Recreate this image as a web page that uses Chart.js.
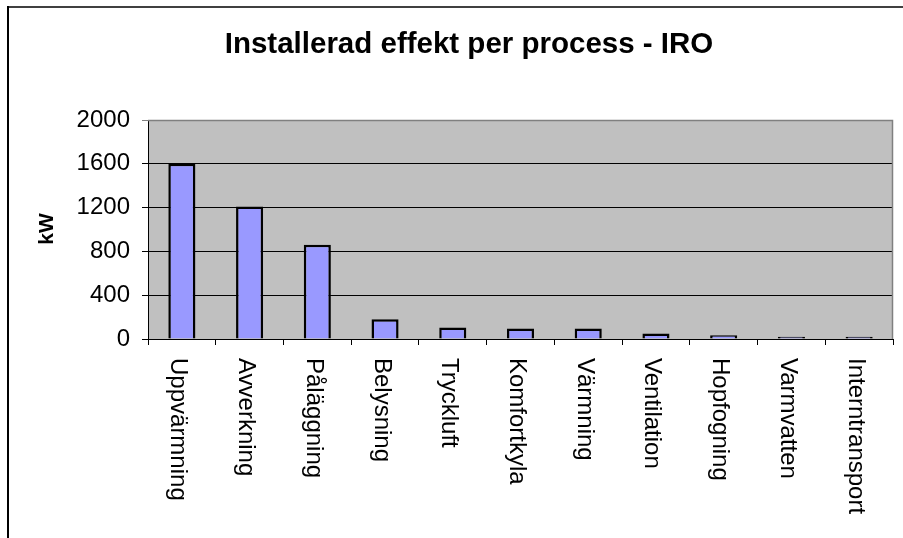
<!DOCTYPE html>
<html>
<head>
<meta charset="utf-8">
<script src="https://cdn.jsdelivr.net/npm/chart.js@4/dist/chart.umd.min.js"></script>
<style>
  html, body { margin: 0; padding: 0; background: #ffffff; }
  canvas { display: block; }
</style>
</head>
<body>
<canvas id="chart" width="903" height="538"></canvas>
<script>
// Installed power per process (kW)
const categories = ['Uppvärmning', 'Avverkning', 'Påläggning', 'Belysning', 'Tryckluft',
  'Komfortkyla', 'Värmning', 'Ventilation', 'Hopfogning', 'Varmvatten', 'Interntransport'];
const effektKW = [1600, 1210, 860, 180, 105, 95, 95, 50, 35, 20, 20];
const yTicks = [0, 400, 800, 1200, 1600, 2000];
const titleText = 'Installerad effekt per process - IRO';
const yAxisTitle = 'kW';

const FONT = '"Liberation Sans", Arial, Helvetica, sans-serif';

// Frame, grey plot background, title, axis title and vertical category labels
const decor = {
  id: 'decor',
  beforeDraw(chart) {
    const { ctx, chartArea: a } = chart;
    ctx.save();
    ctx.fillStyle = '#C0C0C0';
    ctx.fillRect(a.left, a.top, a.right - a.left, a.bottom - a.top);
    ctx.restore();
  },
  afterDatasetsDraw(chart) {
    const { ctx, chartArea: a } = chart;
    ctx.save();
    ctx.strokeStyle = '#808080';
    ctx.lineWidth = 1.5;
    ctx.beginPath();
    ctx.moveTo(a.left, a.top + 0.5);
    ctx.lineTo(a.right - 0.5, a.top + 0.5);
    ctx.lineTo(a.right - 0.5, a.bottom);
    ctx.stroke();
    ctx.restore();
  },
  afterDraw(chart) {
    const { ctx } = chart;
    const x = chart.scales.x;
    ctx.save();
    // outer frame
    ctx.strokeStyle = '#404040';
    ctx.lineWidth = 2;
    ctx.beginPath();
    ctx.moveTo(8, 7);
    ctx.lineTo(903, 7);
    ctx.stroke();
    ctx.strokeStyle = '#000000';
    ctx.beginPath();
    ctx.moveTo(8, 6);
    ctx.lineTo(8, 538);
    ctx.stroke();

    // title
    ctx.fillStyle = '#000000';
    ctx.font = 'bold 29.5px ' + FONT;
    ctx.textAlign = 'center';
    ctx.textBaseline = 'alphabetic';
    ctx.fillText(titleText, 469, 53);

    // y axis title
    ctx.save();
    ctx.translate(53, 229);
    ctx.rotate(-Math.PI / 2);
    ctx.font = 'bold 21px ' + FONT;
    ctx.textAlign = 'center';
    ctx.fillText(yAxisTitle, 0, 0);
    ctx.restore();

    // category labels, reading top to bottom
    ctx.font = '24px ' + FONT;
    ctx.textAlign = 'left';
    ctx.textBaseline = 'alphabetic';
    categories.forEach((c, i) => {
      const px = x.getPixelForValue(i);
      ctx.save();
      ctx.translate(px - 10.5, 358);
      ctx.rotate(Math.PI / 2);
      ctx.fillText(c, 0, 0);
      ctx.restore();
    });
    ctx.restore();
  }
};

new Chart(document.getElementById('chart'), {
  type: 'bar',
  data: {
    labels: categories,
    datasets: [{
      data: effektKW,
      backgroundColor: '#9999FF',
      borderColor: '#000000',
      borderWidth: 2.5,
      borderSkipped: 'bottom',
      barPercentage: 0.4,
      categoryPercentage: 1.0
    }]
  },
  options: {
    responsive: false,
    animation: false,
    devicePixelRatio: 1,
    layout: { padding: { left: 0, top: 120, right: 10, bottom: 0 } },
    plugins: {
      legend: { display: false },
      title: { display: false },
      tooltip: { enabled: false }
    },
    scales: {
      x: {
        offset: true,
        afterFit(scale) { scale.height = 199; },
        grid: {
          offset: true,
          drawOnChartArea: false,
          drawTicks: true,
          tickLength: 6,
          color: '#000000',
          lineWidth: 1
        },
        border: { display: true, color: '#000000', width: 1 },
        ticks: { display: false }
      },
      y: {
        min: 0,
        max: 2000,
        afterFit(scale) { scale.width = 148; },
        afterBuildTicks(scale) { scale.ticks = yTicks.map(v => ({ value: v })); },
        grid: {
          drawTicks: true,
          tickLength: 6,
          color: (c) => (c.tick && c.tick.value === 2000 ? '#808080' : '#000000'),
          lineWidth: 1
        },
        border: { display: true, color: '#000000', width: 1 },
        ticks: {
          padding: 12,
          color: '#000000',
          font: { family: FONT, size: 24 },
          callback: (v) => String(v)
        }
      }
    }
  },
  plugins: [decor]
});
</script>
</body>
</html>
